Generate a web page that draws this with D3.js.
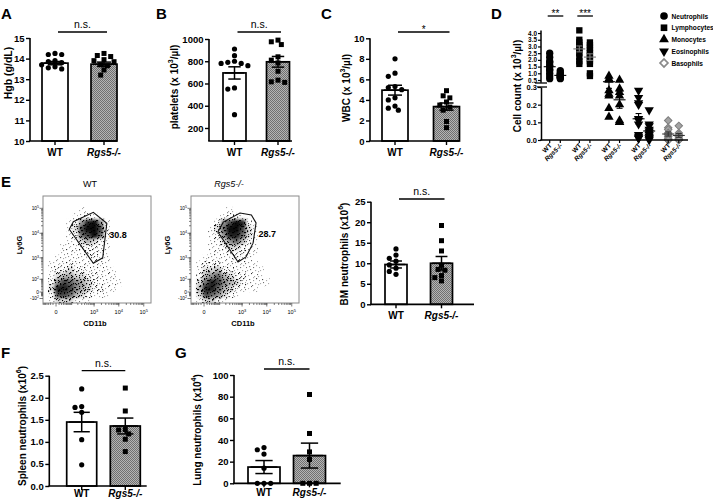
<!DOCTYPE html>
<html><head><meta charset="utf-8">
<script src="https://cdn.jsdelivr.net/npm/d3@7"></script>
<style>
body{margin:0;background:#fff}
svg{display:block}
text{font-family:"Liberation Sans",Arial,Helvetica,sans-serif;fill:#000}
</style>
</head><body>
<svg id="c" width="713" height="500"></svg>
<script>
// ================= DATA =================
const groups = ["WT", "Rgs5-/-"];

// A: Hgb (g/dL)
const hgbWT = [14.25, 14.2, 14.2, 13.9, 13.85, 13.8, 13.7, 13.6, 13.55, 13.5];
const hgbKO = [14.25, 14.15, 14.1, 13.95, 13.9, 13.85, 13.7, 13.65, 13.45, 13.2];
const hgbMean = [13.78, 13.73];
const hgbSem = [0.08, 0.1];
const hgbTicks = [10, 11, 12, 13, 14, 15];

// B: platelets (x10^3/ul)
const pltWT = [910, 850, 800, 790, 780, 780, 760, 560, 550, 320];
const pltKO = [990, 975, 950, 840, 810, 785, 710, 630, 615, 610];
const pltMean = [695, 795];
const pltSem = [55, 48];
const pltTicks = [200, 400, 600, 800, 1000];

// C: WBC (x10^3/ul)
const wbcWT = [8.0, 6.6, 6.3, 5.3, 5.2, 5.0, 4.2, 4.0, 3.4, 3.2, 3.0];
const wbcKO = [4.9, 4.4, 4.2, 3.8, 3.5, 3.3, 3.0, 1.9, 1.3];
const wbcMean = [4.95, 3.35];
const wbcSem = [0.48, 0.35];
const wbcTicks = [0, 2, 4, 6, 8, 10];

// D: differential cell counts (x10^3/ul)
const cellTypes = ["Neutrophils", "Lymphocytes", "Monocytes", "Eosinophils", "Basophils"];
const diffWT = [
  [2.5, 2.2, 1.9, 1.8, 1.6, 1.5, 1.3, 1.2, 1.0, 0.8, 0.6],
  [4.2, 3.5, 3.3, 3.1, 3.0, 2.9, 2.7, 2.5, 2.2, 1.9, 1.7],
  [0.8, 0.6, 0.5, 0.28, 0.26, 0.25, 0.18, 0.13],
  [0.28, 0.24, 0.21, 0.2, 0.12, 0.11, 0.09, 0.03, 0.02, 0.01, 0.01],
  [0.11, 0.07, 0.06, 0.04, 0.03, 0.02, 0.01, 0.0, 0.0, 0.0]
];
const diffKO = [
  [1.2, 1.05, 0.95, 0.9, 0.85, 0.8, 0.75, 0.7, 0.65, 0.6],
  [3.3, 3.1, 2.9, 2.7, 2.5, 2.3, 2.1, 1.9, 1.7, 1.0, 0.8],
  [0.5, 0.29, 0.27, 0.25, 0.2, 0.11, 0.1, 0.1],
  [0.17, 0.09, 0.08, 0.06, 0.05, 0.04, 0.03, 0.02, 0.01, 0.01, 0.0],
  [0.08, 0.04, 0.03, 0.02, 0.01, 0.0, 0.0]
];
const diffTicksHigh = [0.5, 1.0, 1.5, 2.0, 2.5, 3.0, 3.5, 4.0];
const diffTicksLow = [0.0, 0.1, 0.2, 0.3];
const diffSig = [["Neutrophils", "**"], ["Lymphocytes", "***"]];

// E: flow plots (CD11b vs Ly6G)
const gatePct = ["30.8", "28.7"];
const gateWT = [[74, 14500], [122, 29000], [930, 69000], [3300, 25000], [2250, 1000], [930, 590]];
const gateKO = [[80, 11300], [150, 28000], [820, 65000], [2400, 54000], [3700, 26000], [2800, 4000], [1450, 1100], [680, 670]];
// event density read on an 18x18 grid (0 = empty, 9 = densest), top row = high Ly6G
const densityWT = [
  "000000000000000000",
  "000000000000000000",
  "000000100000000000",
  "000001121000000000",
  "000012589510000000",
  "000013799720000000",
  "000012679620000000",
  "000011343210000000",
  "000111222110000000",
  "000111122110000000",
  "001111112110000000",
  "011121111110000000",
  "012232211111000000",
  "013443322111000000",
  "025765432111100000",
  "038875432211000000",
  "027764321110000000",
  "013331110000000000"
];
const densityKO = [
  "000000000000000000",
  "000000000000000000",
  "000000100000000000",
  "000001221000000000",
  "000025798200000000",
  "000136997310000000",
  "000125886310000000",
  "000113564210000000",
  "000112332110000000",
  "000111222110000000",
  "001111121100000000",
  "012221111110000000",
  "013342211111000000",
  "024564322111000000",
  "036875432111100000",
  "048864321110000000",
  "037653210000000000",
  "013321000000000000"
];
const flowXTicks = [[0, "0"], [1e3, "10", "3"], [1e4, "10", "4"], [1e5, "10", "5"]];
const flowYTicks = [[-100, "-10", "2"], [0, "0"], [1e2, "10", "2"], [1e3, "10", "3"], [1e4, "10", "4"], [1e5, "10", "5"]];

// E: BM neutrophils (x10^6)
const bmWT = [13.5, 12.0, 11.2, 10.5, 9.6, 8.8, 8.0, 7.3];
const bmKO = [19.2, 15.5, 13.0, 9.5, 8.5, 8.3, 7.0, 6.5, 5.7];
const bmMean = [9.7, 10.0];
const bmSem = [0.85, 1.65];
const bmTicks = [0, 5, 10, 15, 20, 25];

// F: spleen neutrophils (x10^6)
const splWT = [2.2, 1.8, 1.78, 1.67, 1.05, 0.48];
const splKO = [2.22, 1.7, 1.28, 1.27, 1.18, 1.06, 0.78];
const splMean = [1.45, 1.36];
const splSem = [0.22, 0.18];
const splTicks = [0, 0.5, 1.0, 1.5, 2.0, 2.5];

// G: lung neutrophils (x10^4)
const lungWT = [33, 31, 27, 14, 0, 0, 0];
const lungKO = [82, 46, 29, 22, 0, 0, 0];
const lungMean = [15, 25.6];
const lungSem = [6, 11.5];
const lungTicks = [0, 20, 40, 60, 80, 100];

// ================= DRAWING =================
const svg = d3.select("#c");
const defs = svg.append("defs");
const pat = defs.append("pattern").attr("id", "hatch").attr("width", 2).attr("height", 2)
  .attr("patternUnits", "userSpaceOnUse");
pat.append("rect").attr("width", 2).attr("height", 2).attr("fill", "#b4b4b4");
pat.append("rect").attr("width", 1).attr("height", 1).attr("fill", "#707070");
pat.append("rect").attr("x", 1).attr("y", 1).attr("width", 1).attr("height", 1).attr("fill", "#707070");

const blur = defs.append("filter").attr("id", "blur").attr("x", "-20%").attr("y", "-20%").attr("width", "140%").attr("height", "140%");
blur.append("feGaussianBlur").attr("stdDeviation", 1.6);

// speckle textures for sparse events
const sp = defs.append("pattern").attr("id", "speck").attr("width", 13).attr("height", 13).attr("patternUnits", "userSpaceOnUse");
[[1,2],[4,0],[7,3],[10,1],[2,6],[6,7],[9,5],[0,10],[3,9],[8,10],[5,12],[11,11],[12,7],[6,4],[11,3]]
  .forEach(([a,b]) => sp.append("rect").attr("x", a).attr("y", b).attr("width", 1.1).attr("height", 1.1).attr("fill", "#000"));
const sp2 = defs.append("pattern").attr("id", "speck2").attr("width", 11).attr("height", 9).attr("patternUnits", "userSpaceOnUse");
[[0,1],[3,3],[6,0],[9,4],[2,7],[5,5],[8,8],[10,1],[4,2]]
  .forEach(([a,b]) => sp2.append("rect").attr("x", a).attr("y", b).attr("width", 1.1).attr("height", 1.1).attr("fill", "#000"));

function panelLetter(t, x, y) {
  svg.append("text").attr("x", x).attr("y", y).attr("font-size", 15).attr("font-weight", "bold").text(t);
}

function rotTitle(parts, x, y, size) {
  const t = svg.append("text").attr("transform", `translate(${x},${y}) rotate(-90)`)
    .attr("text-anchor", "middle").attr("dominant-baseline", "central")
    .attr("font-size", size || 10).attr("font-weight", "bold");
  parts.forEach(p => {
    const s = t.append("tspan").text(p[0]);
    if (p[1]) s.attr("baseline-shift", "super").attr("font-size", (size || 10) * 0.7);
  });
}

function catLabel(g, x, y, grp, size) {
  g.append("text").attr("x", x).attr("y", y).attr("text-anchor", "middle")
    .attr("font-size", size || 10).attr("font-weight", "bold")
    .attr("font-style", grp === "WT" ? "normal" : "italic").text(grp);
}

function swarm(vals, y, cx, d) {
  const placed = [];
  const sorted = vals.slice().sort((a, b) => b - a);
  const step = d * 0.62;
  sorted.forEach(v => {
    const py = y(v);
    for (let k = 0; k < 40; k++) {
      const off = (k === 0) ? 0 : (k % 2 ? -1 : 1) * Math.ceil(k / 2) * step;
      const px = cx + off;
      if (placed.every(p => (p.x - px) ** 2 + (p.y - py) ** 2 >= (d * 0.98) ** 2)) {
        placed.push({x: px, y: py, v});
        break;
      }
    }
  });
  return placed;
}

function barPanel(p) {
  const g = svg.append("g");
  const y = d3.scaleLinear().domain(p.domain).range([p.yBot, p.yTop]);
  const x = d3.scalePoint().domain(groups).range([p.x0 + p.c[0], p.x0 + p.c[1]]);
  const pts = [p.wt, p.ko];
  groups.forEach((grp, i) => {
    const cx = x(grp);
    g.append("rect").attr("x", cx - p.bw / 2).attr("y", y(p.means[i]))
      .attr("width", p.bw).attr("height", p.yBot - y(p.means[i]))
      .attr("fill", i ? "url(#hatch)" : "#fff").attr("stroke", "#000").attr("stroke-width", 1.7);
  });
  groups.forEach((grp, i) => {
    const cx = x(grp);
    const d = 5.4;
    const s = swarm(pts[i], y, cx, d);
    s.forEach(pt => {
      if (i === 0) g.append("circle").attr("cx", pt.x).attr("cy", pt.y).attr("r", 2.6).attr("fill", "#000");
      else g.append("rect").attr("x", pt.x - 2.5).attr("y", pt.y - 2.5).attr("width", 5).attr("height", 5).attr("fill", "#000");
    });
  });
  groups.forEach((grp, i) => {
    const cx = x(grp), m = p.means[i], s = p.sems[i];
    const hw = p.bw * 0.42, cw = p.bw * 0.27;
    const e = g.append("g").attr("stroke", "#000").attr("stroke-width", 1.5);
    e.append("line").attr("x1", cx - hw).attr("x2", cx + hw).attr("y1", y(m)).attr("y2", y(m));
    e.append("line").attr("x1", cx).attr("x2", cx).attr("y1", y(m - s)).attr("y2", y(m + s));
    e.append("line").attr("x1", cx - cw).attr("x2", cx + cw).attr("y1", y(m + s)).attr("y2", y(m + s));
    e.append("line").attr("x1", cx - cw).attr("x2", cx + cw).attr("y1", y(m - s)).attr("y2", y(m - s));
  });
  // y axis
  const ax = g.append("g").attr("transform", `translate(${p.x0},0)`)
    .call(d3.axisLeft(y).tickValues(p.ticks).tickSize(4).tickSizeOuter(0).tickFormat(p.fmt || d3.format("d")));
  ax.select(".domain").attr("stroke-width", 1.6).attr("d", `M0,${p.yBot}V${p.yTop}`);
  ax.selectAll(".tick line").attr("stroke-width", 1.4);
  ax.selectAll(".tick text").attr("font-size", 9.5).attr("font-weight", "bold")
    .attr("font-family", '"Liberation Sans",Arial,sans-serif').attr("x", -5.5);
  // x axis baseline
  g.append("line").attr("x1", p.x0 - 0.8).attr("x2", p.xEnd).attr("y1", p.yBot).attr("y2", p.yBot)
    .attr("stroke", "#000").attr("stroke-width", 1.7);
  groups.forEach(grp => {
    g.append("line").attr("x1", x(grp)).attr("x2", x(grp)).attr("y1", p.yBot).attr("y2", p.yBot + 4)
      .attr("stroke", "#000").attr("stroke-width", 1.4);
    catLabel(g, x(grp), p.yBot + (p.catDy || 15), grp, 10);
  });
  // significance
  g.append("line").attr("x1", x(groups[0]) + p.sigShift).attr("x2", x(groups[1]) + p.sigShift)
    .attr("y1", p.sigY).attr("y2", p.sigY).attr("stroke", "#000").attr("stroke-width", 1.3);
  g.append("text").attr("x", (x(groups[0]) + x(groups[1])) / 2 + p.sigShift)
    .attr("y", p.sigText === "*" ? p.sigY + 1 : p.sigY - 4)
    .attr("text-anchor", "middle").attr("font-size", p.sigText === "*" ? 10 : 10.5).text(p.sigText);
}

// ---- A ----
panelLetter("A", 1, 18.5);
barPanel({x0: 30, xEnd: 117, yTop: 38, yBot: 141, domain: [10, 15], ticks: hgbTicks,
  c: [25, 74], bw: 26, wt: hgbWT, ko: hgbKO, means: hgbMean, sems: hgbSem, sigY: 32, sigText: "n.s.", sigShift: 3});
rotTitle([["Hgb (g/dL)"]], 8, 73, 10.5);

// ---- B ----
panelLetter("B", 156, 18.5);
barPanel({x0: 209, xEnd: 292, yTop: 39, yBot: 141, domain: [83, 1000], ticks: pltTicks,
  c: [25.5, 69], bw: 23, wt: pltWT, ko: pltKO, means: pltMean, sems: pltSem, sigY: 32, sigText: "n.s.", sigShift: 3});
rotTitle([["platelets (x 10"], ["3", 1], ["/\u00b5l)"]], 174, 87, 10);

// ---- C ----
panelLetter("C", 321, 18.5);
barPanel({x0: 370, xEnd: 459, yTop: 38.3, yBot: 141, domain: [0, 10], ticks: wbcTicks,
  c: [25, 76.5], bw: 26, wt: wbcWT, ko: wbcKO, means: wbcMean, sems: wbcSem, sigY: 32, sigText: "*", sigShift: 3});
rotTitle([["WBC (x 10"], ["3", 1], ["/\u00b5l)"]], 346, 88, 10);

// ---- D ----
panelLetter("D", 491, 18.5);
(function () {
  const g = svg.append("g");
  const yLow = d3.scaleLinear().domain([0, 0.3]).range([140, 87]);
  const yHigh = d3.scaleLinear().domain([0.3, 4.1]).range([82.7, 31.7]);
  const yD = v => v <= 0.3 ? yLow(v) : yHigh(v);
  const xT = d3.scalePoint().domain(cellTypes).range([555, 673.5]);
  const off = d3.scalePoint().domain(groups).range([-5.3, 5.3]);
  const styles = {
    Neutrophils: {sym: d3.symbolCircle, rot: 0, size: 42},
    Lymphocytes: {sym: d3.symbolSquare, rot: 0, size: 40},
    Monocytes: {sym: d3.symbolTriangle, rot: 0, size: 38},
    Eosinophils: {sym: d3.symbolTriangle, rot: 180, size: 38},
    Basophils: {sym: d3.symbolSquare, rot: 45, size: 28}
  };
  const data = [diffWT, diffKO];
  cellTypes.forEach((ct, ci) => {
    const st = styles[ct];
    const path = d3.symbol().type(st.sym).size(st.size)();
    groups.forEach((grp, gi) => {
      const cx = xT(ct) + off(grp);
      data[gi][ci].forEach(v => {
        const pth = g.append("path").attr("d", path)
          .attr("transform", `translate(${cx},${yD(v)}) rotate(${st.rot})`);
        if (ct === "Basophils") pth.attr("fill", "#a3a3a3").attr("stroke", "#7d7d7d").attr("stroke-width", 1);
        else pth.attr("fill", "#000");
      });
      const vals = data[gi][ci];
      const m = d3.mean(vals), se = d3.deviation(vals) / Math.sqrt(vals.length);
      const col = ct === "Basophils" ? "#333" : (ct === "Lymphocytes" ? "#777" : "#000");
      const e = g.append("g").attr("stroke", col).attr("stroke-width", 1.1);
      e.append("line").attr("x1", cx - 6).attr("x2", cx + 6).attr("y1", yD(m)).attr("y2", yD(m));
      e.append("line").attr("x1", cx).attr("x2", cx).attr("y1", yD(Math.max(0, m - se))).attr("y2", yD(m + se));
      e.append("line").attr("x1", cx - 3).attr("x2", cx + 3).attr("y1", yD(m + se)).attr("y2", yD(m + se));
      e.append("line").attr("x1", cx - 3).attr("x2", cx + 3).attr("y1", yD(Math.max(0, m - se))).attr("y2", yD(Math.max(0, m - se)));
    });
  });
  // axes
  const ax1 = g.append("g").attr("transform", "translate(541,0)")
    .call(d3.axisLeft(yHigh).tickValues(diffTicksHigh).tickSize(3).tickSizeOuter(0).tickFormat(d3.format(".1f")));
  const ax2 = g.append("g").attr("transform", "translate(541,0)")
    .call(d3.axisLeft(yLow).tickValues(diffTicksLow).tickSize(3).tickSizeOuter(0).tickFormat(d3.format(".1f")));
  [ax1, ax2].forEach(a => {
    a.select(".domain").attr("stroke-width", 1.5);
    a.selectAll(".tick line").attr("stroke-width", 1.2);
    a.selectAll(".tick text").attr("font-weight", "bold")
      .attr("font-family", '"Liberation Sans",Arial,sans-serif').attr("x", -4);
  });
  ax1.selectAll(".tick text").attr("font-size", 6.4);
  ax2.selectAll(".tick text").attr("font-size", 7.5);
  ax1.select(".domain").attr("d", "M0,82.7V30.5");
  g.append("line").attr("x1", 535).attr("x2", 547).attr("y1", 83).attr("y2", 83).attr("stroke", "#000").attr("stroke-width", 1.3);
  g.append("line").attr("x1", 537).attr("x2", 547).attr("y1", 87).attr("y2", 87).attr("stroke", "#000").attr("stroke-width", 1.3);
  g.append("line").attr("x1", 540.3).attr("x2", 688).attr("y1", 140).attr("y2", 140).attr("stroke", "#000").attr("stroke-width", 1.6);
  cellTypes.forEach(ct => groups.forEach(grp => {
    const cx = xT(ct) + off(grp);
    g.append("line").attr("x1", cx).attr("x2", cx).attr("y1", 140).attr("y2", 143).attr("stroke", "#000").attr("stroke-width", 1.2);
    g.append("text").attr("transform", `translate(${cx + 2.5},${146}) rotate(-45)`)
      .attr("text-anchor", "end").attr("font-size", 6.5).attr("font-weight", "bold")
      .attr("font-style", grp === "WT" ? "normal" : "italic").text(grp);
  }));
  // significance
  diffSig.forEach(([ct, s]) => {
    const x1 = xT(ct) + off(groups[0]) - 2, x2 = xT(ct) + off(groups[1]) + 3;
    g.append("line").attr("x1", x1).attr("x2", x2).attr("y1", 16).attr("y2", 16).attr("stroke", "#000").attr("stroke-width", 1.3);
    g.append("text").attr("x", (x1 + x2) / 2).attr("y", 16.5).attr("text-anchor", "middle").attr("font-size", 10).text(s);
  });
  // legend
  const lg = d3.scalePoint().domain(cellTypes).range([16, 63]);
  cellTypes.forEach(ct => {
    const st = styles[ct];
    const pth = g.append("path").attr("d", d3.symbol().type(st.sym).size(st.size + 4)())
      .attr("transform", `translate(664,${lg(ct)}) rotate(${st.rot})`);
    if (ct === "Basophils") pth.attr("fill", "#fff").attr("stroke", "#8a8a8a").attr("stroke-width", 1.6);
    else pth.attr("fill", "#000");
    g.append("text").attr("x", 671.5).attr("y", lg(ct) + 2.5).attr("font-size", 6.6).attr("font-weight", "bold").text(ct);
  });
})();
rotTitle([["Cell count (x 10"], ["3", 1], ["/\u00b5l)"]], 517, 86, 10);

// ---- E flow ----
panelLetter("E", 1, 187);
function flowPanel(bx, grid, gate, pct, title, titleX) {
  const by = 196, w = 108, h = 107;
  const g = svg.append("g");
  const x = d3.scaleSymlog().constant(31).domain([-72, 195000]).range([bx, bx + w]);
  const yPos = d3.scaleSymlog().constant(45).domain([0, 311000]).range([292, by]);
  const y = v => v >= 0 ? yPos(v) : yPos(0) + 6.5 * (-v / 100);
  const cid = "clip" + bx;
  defs.append("clipPath").attr("id", cid).append("rect").attr("x", bx).attr("y", by).attr("width", w).attr("height", h);
  const cols = grid[0].length, rows = grid.length;
  const cx = d3.scaleBand().domain(d3.range(cols)).range([bx, bx + w]);
  const cy = d3.scaleBand().domain(d3.range(rows)).range([by, by + h]);
  const clipG = g.append("g").attr("clip-path", `url(#${cid})`);
  const speckG = clipG.append("g");
  const coreG = clipG.append("g").attr("filter", "url(#blur)");
  grid.forEach((row, j) => row.split("").forEach((ch, i) => {
    const v = +ch;
    if (!v) return;
    speckG.append("rect").attr("x", cx(i) - 1).attr("y", cy(j) - 1)
      .attr("width", cx.bandwidth() + 2).attr("height", cy.bandwidth() + 2)
      .attr("fill", "url(#speck)").attr("opacity", Math.min(1, v / 3));
    if (v >= 2) speckG.append("rect").attr("x", cx(i) - 1).attr("y", cy(j) - 1)
      .attr("width", cx.bandwidth() + 2).attr("height", cy.bandwidth() + 2)
      .attr("fill", "url(#speck2)").attr("opacity", Math.min(1, (v - 1) / 3));
    if (v >= 3) coreG.append("rect").attr("x", cx(i)).attr("y", cy(j))
      .attr("width", cx.bandwidth() + 0.5).attr("height", cy.bandwidth() + 0.5)
      .attr("fill", "#000").attr("opacity", Math.min(0.95, (v - 2) / 7));
  }));
  g.append("rect").attr("x", bx).attr("y", by).attr("width", w).attr("height", h)
    .attr("fill", "none").attr("stroke", "#8a8a8a").attr("stroke-width", 1);
  // gate
  g.append("path").attr("d", d3.line().x(d => x(d[0])).y(d => y(d[1])).curve(d3.curveLinearClosed)(gate))
    .attr("fill", "none").attr("stroke", "#111").attr("stroke-width", 1.1);
  const gx = d3.max(gate, d => x(d[0]));
  const gy = d3.mean(gate, d => y(d[1]));
  g.append("text").attr("x", gx + 2.5).attr("y", gy + 3.5).attr("font-size", 9).attr("font-weight", "bold").attr("fill", "#222").text(pct);
  // ticks
  const tk = g.append("g").attr("stroke", "#444").attr("stroke-width", 0.7);
  const minors = [];
  for (let k = 1; k <= 4; k++) for (let m = 1; m <= 9; m++) minors.push(m * Math.pow(10, k));
  for (let m = 1; m <= 7; m++) minors.push(-m * 10);
  minors.filter(v => v > -72 && v < 195000).forEach(v => {
    tk.append("line").attr("x1", x(v)).attr("x2", x(v)).attr("y1", by + h).attr("y2", by + h + 2);
  });
  minors.filter(v => v > -70 && v < 311000).forEach(v => {
    tk.append("line").attr("x1", bx).attr("x2", bx - 2).attr("y1", y(v)).attr("y2", y(v));
  });
  flowXTicks.forEach(t => {
    tk.append("line").attr("x1", x(t[0])).attr("x2", x(t[0])).attr("y1", by + h).attr("y2", by + h + 3.5);
    const tx = g.append("text").attr("x", x(t[0])).attr("y", by + h + 10.5).attr("text-anchor", "middle")
      .attr("font-size", 5.5).attr("fill", "#222").text(t[1]);
    if (t[2]) tx.append("tspan").attr("baseline-shift", "super").attr("font-size", 4).text(t[2]);
  });
  flowYTicks.forEach(t => {
    const yy = y(t[0]);
    tk.append("line").attr("x1", bx).attr("x2", bx - 3.5).attr("y1", yy).attr("y2", yy);
    const tx = g.append("text").attr("x", bx - 4).attr("y", yy + 1.8).attr("text-anchor", "end")
      .attr("font-size", 4.8).attr("fill", "#222").text(t[1]);
    if (t[2]) tx.append("tspan").attr("baseline-shift", "super").attr("font-size", 3.6).text(t[2]);
  });
  g.append("text").attr("x", bx + 52).attr("y", 326).attr("text-anchor", "middle")
    .attr("font-size", 7.5).attr("font-weight", "bold").attr("fill", "#222").text("CD11b");
  g.append("text").attr("transform", `translate(${bx - 21},245) rotate(-90)`).attr("text-anchor", "middle")
    .attr("font-size", 7.5).attr("font-weight", "bold").attr("fill", "#222").text("Ly6G");
  g.append("text").attr("x", titleX).attr("y", 187).attr("text-anchor", "middle").attr("font-size", 9)
    .attr("font-style", title === "WT" ? "normal" : "italic").attr("fill", "#222").text(title);
}
flowPanel(43, densityWT, gateWT, gatePct[0], groups[0], 90);
flowPanel(191, densityKO, gateKO, gatePct[1], groups[1], 229);

// ---- E bar ----
barPanel({x0: 371, xEnd: 474, yTop: 201.7, yBot: 304.3, domain: [0, 25], ticks: bmTicks,
  c: [25, 70.5], bw: 22, wt: bmWT, ko: bmKO, means: bmMean, sems: bmSem, sigY: 199, sigText: "n.s.", sigShift: 3});
rotTitle([["BM neutrophils (x10"], ["6", 1], [")"]], 344, 254, 10);

// ---- F ----
panelLetter("F", 1, 358);
barPanel({x0: 49.3, xEnd: 146.7, yTop: 375.7, yBot: 486, domain: [0, 2.5], ticks: splTicks, fmt: d3.format(".1f"),
  c: [32.4, 76], bw: 30, wt: splWT, ko: splKO, means: splMean, sems: splSem, sigY: 370.7, sigText: "n.s.", sigShift: 0, catDy: 10.5});
rotTitle([["Spleen neutrophils (x10"], ["6", 1], [")"]], 22, 426, 10);

// ---- G ----
panelLetter("G", 175, 358);
barPanel({x0: 234, xEnd: 340.7, yTop: 375, yBot: 483.3, domain: [0, 100], ticks: lungTicks,
  c: [30, 75.5], bw: 32, wt: lungWT, ko: lungKO, means: lungMean, sems: lungSem, sigY: 369, sigText: "n.s.", sigShift: 0, catDy: 13});
rotTitle([["Lung neutrophils (x10"], ["4", 1], [")"]], 197, 430, 10);
</script>
</body></html>
